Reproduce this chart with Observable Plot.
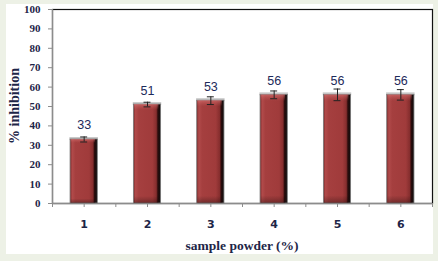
<!DOCTYPE html>
<html>
<head>
<meta charset="utf-8">
<script src="https://cdn.jsdelivr.net/npm/d3@7"></script>
<script src="https://cdn.jsdelivr.net/npm/@observablehq/plot@0.6"></script>
<style>
  html, body { margin: 0; padding: 0; background: #edf1e6; }
  #wrap { position: relative; width: 438px; height: 261px; overflow: hidden; }
  #panel { position: absolute; left: 6px; top: 4px; width: 427px; height: 250px; background: #ffffff; }
  #chart { position: absolute; left: 0; top: 0; }
</style>
</head>
<body>
<div id="wrap"><div id="panel"></div><div id="chart"></div></div>
<script>
const categories = [1, 2, 3, 4, 5, 6];
const values = [33, 51, 53, 56, 56, 56];
const errors = [1.3, 1.2, 2, 2, 3, 2.7];
const yTicks = [0, 10, 20, 30, 40, 50, 60, 70, 80, 90, 100];

const data = categories.map((c, i) => ({x: c, v: values[i], e: errors[i]}));
const half = 0.215;
const capHalf = 0.055;

const navy = "#1d2547";
const axisGray = "#8c8c8c";

const plot = Plot.plot({
  width: 438,
  height: 261,
  marginLeft: 52,
  marginRight: 6,
  marginTop: 9,
  marginBottom: 58,
  style: {background: "transparent", overflow: "visible"},
  x: {type: "linear", domain: [0.5, 6.5]},
  y: {domain: [0, 100]},
  marks: [
    Plot.frame({stroke: "#111", strokeWidth: 1.2}),
    Plot.ruleY([0], {stroke: axisGray, strokeWidth: 1.3}),
    Plot.ruleX([0.5], {stroke: axisGray, strokeWidth: 1.3}),
    Plot.axisY({
      ticks: yTicks, tickSize: 4, tickPadding: 8, stroke: axisGray,
      fontFamily: "Liberation Serif", fontWeight: "bold", fontSize: 11, fill: navy,
      label: null
    }),
    Plot.axisX({
      ticks: d3.range(0.5, 6.51, 0.5), tickSize: 4, tickPadding: 13, stroke: axisGray,
      tickFormat: d => Number.isInteger(d) ? String(d) : "",
      fontFamily: "DejaVu Sans", fontWeight: "bold", fontSize: 11, fill: navy,
      label: null
    }),
    Plot.ruleY(data, {y: "v", x1: d => d.x - half - 0.01, x2: d => d.x + half + 0.01, stroke: "#c9c9c9", strokeWidth: 3, dy: -1}),
    Plot.rectY(data, {x1: d => d.x - half, x2: d => d.x + half, y1: 0, y2: "v", fill: "url(#barH)", stroke: "#7a7a7a", strokeWidth: 0.8}),
    Plot.rectY(data, {x1: d => d.x - half + 0.01, x2: d => d.x + half - 0.035, y1: 0, y2: "v", fill: "url(#barV)"}),
    Plot.ruleX(data, {x: "x", y1: d => d.v - d.e, y2: d => d.v + d.e, stroke: "#222", strokeWidth: 1}),
    Plot.ruleY(data, {y: d => d.v + d.e, x1: d => d.x - capHalf, x2: d => d.x + capHalf, stroke: "#222", strokeWidth: 1}),
    Plot.ruleY(data, {y: d => d.v - d.e, x1: d => d.x - capHalf, x2: d => d.x + capHalf, stroke: "#222", strokeWidth: 1}),
    Plot.text(data, {x: "x", y: "v", text: d => String(d.v), dy: -14, fill: "#1d2a5a", fontFamily: "Liberation Sans", fontSize: 12.5})
  ]
});

const svg = d3.select(plot);
svg.append("text")
  .attr("transform", "translate(18.5,106) rotate(-90)")
  .attr("text-anchor", "middle")
  .attr("font-family", "Liberation Serif").attr("font-weight", "bold").attr("font-size", 14)
  .attr("fill", navy)
  .text("% inhibition");
svg.append("text")
  .attr("x", 242).attr("y", 250)
  .attr("text-anchor", "middle")
  .attr("font-family", "Liberation Serif").attr("font-weight", "bold").attr("font-size", 13.5)
  .attr("fill", navy)
  .text("sample powder (%)");

const defs = svg.insert("defs", ":first-child");
const gh = defs.append("linearGradient").attr("id", "barH").attr("x1", "0").attr("x2", "1").attr("y1", "0").attr("y2", "0");
[[0, "#7d2a2a"], [0.08, "#b14a4a"], [0.2, "#a53f3f"], [0.7, "#a03b3b"], [0.84, "#862e2e"], [0.9, "#2a0c0c"], [1, "#0e0e0e"]]
  .forEach(([o, c]) => gh.append("stop").attr("offset", o).attr("stop-color", c));
const gv = defs.append("linearGradient").attr("id", "barV").attr("x1", "0").attr("x2", "0").attr("y1", "0").attr("y2", "1");
[[0, "#e88080", 0.55], [0.03, "#d06a6a", 0.3], [0.06, "#c06060", 0], [0.93, "#000", 0], [1, "#000", 0.3]]
  .forEach(([o, c, a]) => gv.append("stop").attr("offset", o).attr("stop-color", c).attr("stop-opacity", a));

document.getElementById("chart").appendChild(plot);
</script>
</body>
</html>
